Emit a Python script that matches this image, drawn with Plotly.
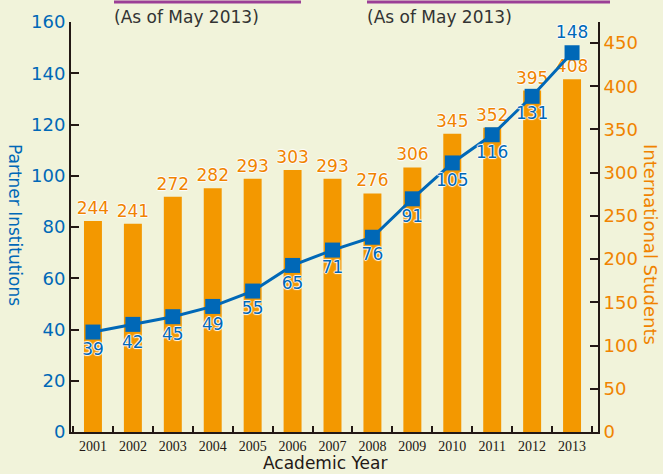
import plotly.graph_objects as go

years = ["2001", "2002", "2003", "2004", "2005", "2006", "2007",
         "2008", "2009", "2010", "2011", "2012", "2013"]
students = [244, 241, 272, 282, 293, 303, 293, 276, 306, 345, 352, 395, 408]
partners = [39, 42, 45, 49, 55, 65, 71, 76, 91, 105, 116, 131, 148]
left_ticks = [0, 20, 40, 60, 80, 100, 120, 140, 160]
right_ticks = [0, 50, 100, 150, 200, 250, 300, 350, 400, 450]

BG = "#F1F3DA"
ORANGE = "#F39800"
ORANGE_TXT = "#F08300"
BLUE = "#0068B7"
DARK = "#231815"
FONT = "DejaVu Sans"
HALO = "-1px 0 1px white, 1px 0 1px white, 0 -1px 1px white, 0 1px 1px white"

L, R, T, B = 71, 598, 22, 432
PW, PH = R - L, B - T

fig = go.Figure()
fig.add_trace(go.Bar(
    x=years, y=students, yaxis="y", width=0.45,
    marker=dict(color=ORANGE, line=dict(width=0)),
    text=[str(v) for v in students], textposition="outside", constraintext="none",
    textfont=dict(color=ORANGE_TXT, size=17, family=FONT, shadow=HALO),
    cliponaxis=False, showlegend=False, hoverinfo="skip",
))
pos = ["bottom center"] * (len(partners) - 1) + ["top center"]
fig.add_trace(go.Scatter(
    x=years, y=partners, yaxis="y2", mode="lines+markers+text",
    line=dict(color=BLUE, width=3),
    marker=dict(symbol="square", size=15, color=BLUE),
    text=[str(v) for v in partners], textposition=pos,
    textfont=dict(color=BLUE, size=17, family=FONT, shadow=HALO),
    cliponaxis=False, showlegend=False, hoverinfo="skip",
))


def px_x(x):
    return (x - L) / PW


def px_y(y):
    return (B - y) / PH


fig.update_layout(
    width=663, height=474,
    margin=dict(l=L, r=663 - R, t=T, b=474 - B, autoexpand=False),
    paper_bgcolor=BG, plot_bgcolor=BG,
    bargap=0.55,
    font=dict(family=FONT),
    xaxis=dict(
        type="category", range=[-0.55, 12.65], automargin=False,
        showline=True, linecolor=DARK, linewidth=2,
        ticks="inside", tickson="boundaries", ticklen=6, tickwidth=2, tickcolor=DARK,
        tickfont=dict(family="Liberation Serif", size=14, color=DARK),
        showgrid=False, zeroline=False,
    ),
    yaxis=dict(
        side="right", range=[0, 450 * PH / 389], automargin=False,
        tickvals=right_ticks, ticks="inside", ticklen=8, tickwidth=2, tickcolor=DARK,
        showline=True, linecolor=DARK, linewidth=2,
        showgrid=False, zeroline=False,
        tickfont=dict(size=18, color=ORANGE_TXT),
    ),
    yaxis2=dict(
        side="left", overlaying="y", range=[0, 160], automargin=False,
        tickvals=left_ticks, ticks="inside", ticklen=8, tickwidth=2, tickcolor=DARK,
        showline=True, linecolor=DARK, linewidth=2,
        showgrid=False, zeroline=False,
        tickfont=dict(size=18, color=BLUE),
    ),
    shapes=[
        dict(type="line", xref="paper", yref="paper", x0=px_x(114), x1=px_x(301),
             y0=px_y(2), y1=px_y(2), line=dict(color="#9B3F96", width=3)),
        dict(type="line", xref="paper", yref="paper", x0=px_x(367), x1=px_x(610),
             y0=px_y(2), y1=px_y(2), line=dict(color="#9B3F96", width=3)),
    ],
    annotations=[
        dict(text="(As of May 2013)", xref="paper", yref="paper", x=px_x(112), y=px_y(17),
             xanchor="left", yanchor="middle", showarrow=False,
             font=dict(size=17, color="#333333", family=FONT)),
        dict(text="(As of May 2013)", xref="paper", yref="paper", x=px_x(365), y=px_y(17),
             xanchor="left", yanchor="middle", showarrow=False,
             font=dict(size=17, color="#333333", family=FONT)),
        dict(text="Partner Institutions", xref="paper", yref="paper", x=px_x(15), y=px_y(225),
             xanchor="center", yanchor="middle", textangle=90, showarrow=False,
             font=dict(size=17, color=BLUE, family=FONT)),
        dict(text="International Students", xref="paper", yref="paper", x=px_x(651), y=px_y(244),
             xanchor="center", yanchor="middle", textangle=90, showarrow=False,
             font=dict(size=18, color=ORANGE_TXT, family=FONT)),
        dict(text="Academic Year", xref="paper", yref="paper", x=px_x(325), y=px_y(463),
             xanchor="center", yanchor="middle", showarrow=False,
             font=dict(size=17, color=DARK, family=FONT)),
    ],
)

fig.write_html("out.html", config={"displayModeBar": False},
               post_script="document.body.style.margin='0';")
